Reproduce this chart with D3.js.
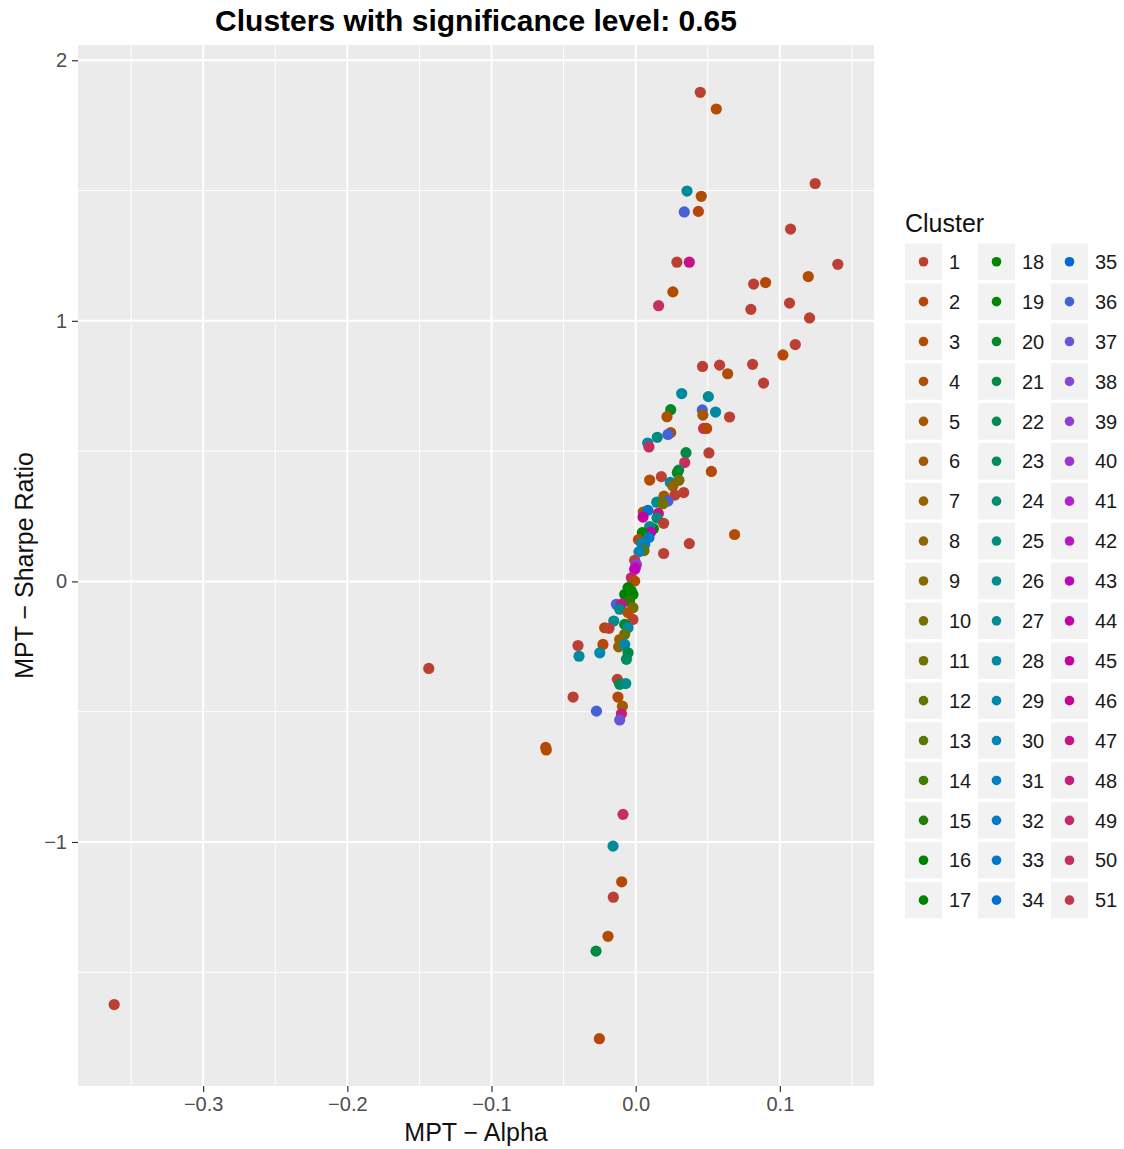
<!DOCTYPE html>
<html lang="en">
<head>
  <meta charset="UTF-8">
  <title>Clusters with significance level: 0.65</title>
  <script src="https://d3js.org/d3.v7.min.js"></script>
  <style>
    body { margin: 0; background: #fff; }
    text { font-family: "Liberation Sans", Arial, Helvetica, sans-serif; }
  </style>
</head>
<body>
  <svg width="1124" height="1149"></svg>
  <script>
    // values
    const alpha = [
      0.0448, 0.0559, 0.0356, 0.0455, 0.0337, 0.0435, 0.1245, 0.1074, 0.0286, 0.0372,
      0.1402, 0.1197, 0.0818, 0.0901, 0.0258, 0.0159, 0.1067, 0.0799, 0.1206, 0.1107,
      0.1021, 0.0464, 0.0582, 0.0638, 0.0811, 0.0887, 0.0319, 0.0504, 0.0243, 0.0217,
      0.0462, 0.0466, 0.0554, 0.0651, 0.0471, 0.0492, 0.0243, 0.0224, 0.0150, 0.0083,
      0.0092, 0.0349, 0.0508, 0.0340, 0.0298, 0.0289, 0.0525, 0.0097, 0.0178, 0.0240,
      0.0258, 0.0300, 0.0333, 0.0272, 0.0196, 0.0224, 0.0146, 0.0189, 0.0053, 0.0085,
      0.0051, 0.0157, 0.0148, 0.0194, 0.0123, 0.0097, 0.0104, 0.0046, 0.0019, 0.0092,
      0.0040, 0.0062, 0.0372, 0.0058, 0.0194, 0.0023, -0.0007, 0.0005, -0.0002, -0.0007,
      -0.0030, -0.0007, -0.0053, -0.0030, -0.0076, -0.0019, -0.0042, -0.0134, -0.0099, -0.0111,
      -0.0019, -0.0053, -0.0019, -0.0152, -0.0215, -0.0185, -0.0076, -0.0053, -0.0076, -0.0111,
      -0.0118, -0.0076, -0.0053, -0.0064, -0.0400, -0.0393, -0.0227, -0.0249, -0.0127, -0.0111,
      -0.0069, -0.0434, -0.0123, -0.0092, -0.0272, -0.0099, -0.0111, -0.0088, -0.0157, -0.0097,
      -0.0155, -0.0192, -0.0275, -0.0252, -0.3617, -0.1435, -0.0624, -0.0620, 0.0686
    ];
    const sharpe = [
      1.877, 1.813, 1.498, 1.478, 1.418, 1.420, 1.527, 1.352, 1.225, 1.225,
      1.217, 1.170, 1.141, 1.147, 1.111, 1.058, 1.068, 1.044, 1.011, 0.909,
      0.869, 0.825, 0.830, 0.797, 0.833, 0.761, 0.721, 0.709, 0.659, 0.632,
      0.658, 0.638, 0.650, 0.631, 0.587, 0.587, 0.571, 0.564, 0.553, 0.531,
      0.516, 0.494, 0.493, 0.456, 0.427, 0.418, 0.422, 0.389, 0.402, 0.380,
      0.366, 0.388, 0.341, 0.331, 0.327, 0.308, 0.304, 0.298, 0.266, 0.273,
      0.247, 0.261, 0.243, 0.223, 0.202, 0.210, 0.189, 0.187, 0.160, 0.168,
      0.146, 0.142, 0.145, 0.118, 0.107, 0.114, 0.081, 0.065, 0.053, 0.046,
      0.014, 0.001, -0.024, -0.037, -0.050, -0.050, -0.076, -0.088, -0.088, -0.107,
      -0.101, -0.120, -0.146, -0.152, -0.178, -0.180, -0.165, -0.178, -0.203, -0.223,
      -0.251, -0.242, -0.274, -0.299, -0.246, -0.287, -0.242, -0.274, -0.376, -0.395,
      -0.392, -0.444, -0.444, -0.479, -0.498, -0.508, -0.532, -0.894, -1.016, -1.153,
      -1.212, -1.362, -1.419, -1.755, -1.624, -0.334, -0.637, -0.647, 0.180
    ];
    const cluster = [
      1, 3, 27, 3, 36, 2, 1, 1, 1, 47,
      1, 3, 1, 2, 3, 50, 1, 1, 1, 1,
      2, 1, 1, 3, 1, 1, 28, 27, 20, 4,
      36, 5, 28, 1, 50, 2, 3, 36, 25, 29,
      50, 21, 1, 50, 22, 20, 2, 3, 1, 29,
      7, 10, 1, 1, 6, 36, 26, 11, 4, 33,
      45, 47, 25, 1, 18, 26, 44, 19, 2, 32,
      28, 31, 1, 12, 1, 30, 1, 39, 42, 43,
      49, 3, 17, 19, 16, 18, 15, 36, 47, 26,
      11, 4, 1, 27, 2, 1, 20, 28, 12, 7,
      8, 29, 21, 23, 1, 28, 2, 29, 1, 22,
      26, 1, 2, 6, 36, 48, 37, 50, 27, 2,
      1, 3, 21, 2, 1, 1, 2, 3, 3
    ];
    const clusterLevels = d3.range(1, 52);
    const xTicks = [-0.3, -0.2, -0.1, 0.0, 0.1];
    const yTicks = [-1, 0, 1, 2];

    const data = alpha.map((a, i) => ({ x: a, y: sharpe[i], c: cluster[i] }));

    // hcl as in R (polar CIE-Luv) -> sRGB
    function hclColor(h, c, l) {
      const hr = h * Math.PI / 180;
      const U = c * Math.cos(hr), V = c * Math.sin(hr);
      const Y = l > 8 ? Math.pow((l + 16) / 116, 3) : l / 903.3;
      const un = 0.1978398, vn = 0.4683363;
      const u = U / (13 * l) + un, v = V / (13 * l) + vn;
      const X = 9 * Y * u / (4 * v);
      const Z = -X / 3 - 5 * Y + 3 * Y / v;
      const lin = [
        3.240479 * X - 1.537150 * Y - 0.498535 * Z,
        -0.969256 * X + 1.875992 * Y + 0.041556 * Z,
        0.055648 * X - 0.204043 * Y + 1.057311 * Z
      ];
      const g = lin.map(t => {
        const s = t > 0.00304 ? 1.055 * Math.pow(t, 1 / 2.4) - 0.055 : 12.92 * t;
        return Math.round(255 * Math.max(0, Math.min(1, s)));
      });
      return d3.rgb(g[0], g[1], g[2]).formatHex();
    }
    const hues = clusterLevels.map((d, i) => 15 + i * 360 / clusterLevels.length);
    const color = d3.scaleOrdinal()
      .domain(clusterLevels)
      .range(hues.map(h => hclColor(h, 100, 45)));

    const svg = d3.select("svg");
    const panel = { left: 78, right: 874, top: 45, bottom: 1086 };

    // ggplot-like 5% expansion
    const xExt = d3.extent(alpha), yExt = d3.extent(sharpe);
    const xPad = (xExt[1] - xExt[0]) * 0.05, yPad = (yExt[1] - yExt[0]) * 0.05;
    const xScale = d3.scaleLinear()
      .domain([xExt[0] - xPad, xExt[1] + xPad])
      .range([panel.left, panel.right]);
    const yScale = d3.scaleLinear()
      .domain([yExt[0] - yPad, yExt[1] + yPad])
      .range([panel.bottom, panel.top]);

    // panel background
    svg.append("rect")
      .attr("x", panel.left).attr("y", panel.top)
      .attr("width", panel.right - panel.left)
      .attr("height", panel.bottom - panel.top)
      .attr("fill", "#EBEBEB");

    // minor grid
    const xMinor = xTicks.map(t => t - 0.05).concat([xTicks[xTicks.length - 1] + 0.05]);
    const yMinor = yTicks.map(t => t - 0.5).concat([yTicks[yTicks.length - 1] + 0.5]);
    svg.append("g").selectAll("line")
      .data(xMinor.filter(v => xScale(v) > panel.left && xScale(v) < panel.right))
      .enter().append("line")
      .attr("x1", d => xScale(d)).attr("x2", d => xScale(d))
      .attr("y1", panel.top).attr("y2", panel.bottom)
      .attr("stroke", "#fff").attr("stroke-width", 1);
    svg.append("g").selectAll("line")
      .data(yMinor.filter(v => yScale(v) > panel.top && yScale(v) < panel.bottom))
      .enter().append("line")
      .attr("y1", d => yScale(d)).attr("y2", d => yScale(d))
      .attr("x1", panel.left).attr("x2", panel.right)
      .attr("stroke", "#fff").attr("stroke-width", 1);

    // major grid
    svg.append("g").selectAll("line")
      .data(xTicks).enter().append("line")
      .attr("x1", d => xScale(d)).attr("x2", d => xScale(d))
      .attr("y1", panel.top).attr("y2", panel.bottom)
      .attr("stroke", "#fff").attr("stroke-width", 2);
    svg.append("g").selectAll("line")
      .data(yTicks).enter().append("line")
      .attr("y1", d => yScale(d)).attr("y2", d => yScale(d))
      .attr("x1", panel.left).attr("x2", panel.right)
      .attr("stroke", "#fff").attr("stroke-width", 2);

    // axes
    const fmtX = d3.format(".1f");
    const xAxis = d3.axisBottom(xScale).tickValues(xTicks).tickFormat(fmtX).tickSize(6).tickPadding(5);
    const yAxis = d3.axisLeft(yScale).tickValues(yTicks).tickFormat(d3.format("d")).tickSize(6).tickPadding(5);
    const gx = svg.append("g").attr("transform", `translate(0,${panel.bottom})`).call(xAxis);
    const gy = svg.append("g").attr("transform", `translate(${panel.left},0)`).call(yAxis);
    [gx, gy].forEach(g => {
      g.select(".domain").remove();
      g.selectAll(".tick line").attr("stroke", "#333").attr("stroke-width", 1.2);
      g.selectAll(".tick text").attr("fill", "#4D4D4D").style("font-size", "20px");
    });

    // points
    svg.append("g").selectAll("circle")
      .data(data).enter().append("circle")
      .attr("cx", d => xScale(d.x))
      .attr("cy", d => yScale(d.y))
      .attr("r", 5.6)
      .attr("fill", d => color(d.c));

    // titles
    svg.append("text")
      .attr("x", (panel.left + panel.right) / 2).attr("y", 31)
      .attr("text-anchor", "middle")
      .style("font-size", "30px").style("font-weight", "bold")
      .text("Clusters with significance level: 0.65");
    svg.append("text")
      .attr("x", (panel.left + panel.right) / 2).attr("y", 1141)
      .attr("text-anchor", "middle")
      .style("font-size", "25px").attr("fill", "#111")
      .text("MPT − Alpha");
    svg.append("text")
      .attr("transform", `translate(33,${(panel.top + panel.bottom) / 2}) rotate(-90)`)
      .attr("text-anchor", "middle")
      .style("font-size", "25px").attr("fill", "#111")
      .text("MPT − Sharpe Ratio");

    // legend
    const legend = svg.append("g").attr("transform", "translate(905,0)");
    legend.append("text")
      .attr("x", 0).attr("y", 232)
      .style("font-size", "25px").attr("fill", "#111")
      .text("Cluster");
    const perCol = 17, colW = 73, rowH = 39.9, keyW = 37, keyH = 36.5, keyTop = 243.5;
    const items = legend.selectAll("g.item")
      .data(clusterLevels).enter().append("g")
      .attr("class", "item")
      .attr("transform", (d, i) => `translate(${Math.floor(i / perCol) * colW},${keyTop + (i % perCol) * rowH})`);
    items.append("rect")
      .attr("width", keyW).attr("height", keyH)
      .attr("fill", "#F2F2F2");
    items.append("circle")
      .attr("cx", keyW / 2).attr("cy", keyH / 2).attr("r", 4.8)
      .attr("fill", d => color(d));
    items.append("text")
      .attr("x", keyW + 7).attr("y", keyH / 2)
      .attr("dy", "0.36em")
      .style("font-size", "20px").attr("fill", "#1A1A1A")
      .text(d => d);
  </script>
</body>
</html>
